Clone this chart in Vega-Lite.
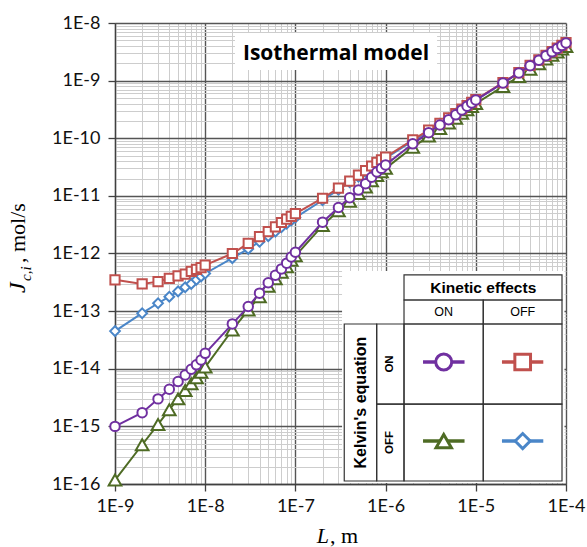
{
  "$schema": "https://vega.github.io/schema/vega-lite/v6.json",
  "width": 451,
  "height": 461,
  "autosize": {"type": "none"},
  "padding": {"left": 115, "top": 23, "right": 21, "bottom": 63},
  "background": "white",
  "config": {"view": {"stroke": null}},
  "datasets": {
    "curves": [
      {"L":1e-9,"J":1e-15,"s":"KelvinON_KineticON"},{"L":2e-9,"J":1.73e-15,"s":"KelvinON_KineticON"},{"L":3e-9,"J":3.0e-15,"s":"KelvinON_KineticON"},{"L":4e-9,"J":4.4e-15,"s":"KelvinON_KineticON"},{"L":5e-9,"J":6.0e-15,"s":"KelvinON_KineticON"},{"L":6e-9,"J":7.8e-15,"s":"KelvinON_KineticON"},{"L":7e-9,"J":9.8e-15,"s":"KelvinON_KineticON"},{"L":8e-9,"J":1.17e-14,"s":"KelvinON_KineticON"},{"L":9e-9,"J":1.42e-14,"s":"KelvinON_KineticON"},
      {"L":1e-8,"J":1.85e-14,"s":"KelvinON_KineticON"},{"L":2e-8,"J":6.0e-14,"s":"KelvinON_KineticON"},{"L":3e-8,"J":1.2e-13,"s":"KelvinON_KineticON"},{"L":4e-8,"J":2.05e-13,"s":"KelvinON_KineticON"},{"L":5e-8,"J":3.1e-13,"s":"KelvinON_KineticON"},{"L":6e-8,"J":4.2e-13,"s":"KelvinON_KineticON"},{"L":7e-8,"J":5.4e-13,"s":"KelvinON_KineticON"},{"L":8e-8,"J":6.8e-13,"s":"KelvinON_KineticON"},{"L":9e-8,"J":8.7e-13,"s":"KelvinON_KineticON"},
      {"L":1e-7,"J":1.05e-12,"s":"KelvinON_KineticON"},{"L":2e-7,"J":3.5e-12,"s":"KelvinON_KineticON"},{"L":3e-7,"J":6.3e-12,"s":"KelvinON_KineticON"},{"L":4e-7,"J":9.3e-12,"s":"KelvinON_KineticON"},{"L":5e-7,"J":1.26e-11,"s":"KelvinON_KineticON"},{"L":6e-7,"J":1.63e-11,"s":"KelvinON_KineticON"},{"L":7e-7,"J":2.1e-11,"s":"KelvinON_KineticON"},{"L":8e-7,"J":2.6e-11,"s":"KelvinON_KineticON"},{"L":9e-7,"J":3.0e-11,"s":"KelvinON_KineticON"},
      {"L":1e-6,"J":3.45e-11,"s":"KelvinON_KineticON"},{"L":2e-6,"J":8.0e-11,"s":"KelvinON_KineticON"},{"L":3e-6,"J":1.25e-10,"s":"KelvinON_KineticON"},{"L":4e-6,"J":1.7e-10,"s":"KelvinON_KineticON"},{"L":5e-6,"J":2.1e-10,"s":"KelvinON_KineticON"},{"L":6e-6,"J":2.55e-10,"s":"KelvinON_KineticON"},{"L":7e-6,"J":3.1e-10,"s":"KelvinON_KineticON"},{"L":8e-6,"J":3.6e-10,"s":"KelvinON_KineticON"},{"L":9e-6,"J":4.1e-10,"s":"KelvinON_KineticON"},
      {"L":1e-5,"J":4.6e-10,"s":"KelvinON_KineticON"},{"L":2e-5,"J":9.1e-10,"s":"KelvinON_KineticON"},{"L":3e-5,"J":1.36e-9,"s":"KelvinON_KineticON"},{"L":4e-5,"J":1.81e-9,"s":"KelvinON_KineticON"},{"L":5e-5,"J":2.26e-9,"s":"KelvinON_KineticON"},{"L":6e-5,"J":2.71e-9,"s":"KelvinON_KineticON"},{"L":7e-5,"J":3.16e-9,"s":"KelvinON_KineticON"},{"L":8e-5,"J":3.6e-9,"s":"KelvinON_KineticON"},{"L":9e-5,"J":4.05e-9,"s":"KelvinON_KineticON"},
      {"L":1e-4,"J":4.5e-9,"s":"KelvinON_KineticON"},

      {"L":1e-9,"J":1.17e-16,"s":"KelvinOFF_KineticON"},{"L":2e-9,"J":4.8e-16,"s":"KelvinOFF_KineticON"},{"L":3e-9,"J":1.08e-15,"s":"KelvinOFF_KineticON"},{"L":4e-9,"J":1.95e-15,"s":"KelvinOFF_KineticON"},{"L":5e-9,"J":3.0e-15,"s":"KelvinOFF_KineticON"},{"L":6e-9,"J":4.2e-15,"s":"KelvinOFF_KineticON"},{"L":7e-9,"J":5.5e-15,"s":"KelvinOFF_KineticON"},{"L":8e-9,"J":7.0e-15,"s":"KelvinOFF_KineticON"},{"L":9e-9,"J":8.7e-15,"s":"KelvinOFF_KineticON"},
      {"L":1e-8,"J":1.07e-14,"s":"KelvinOFF_KineticON"},{"L":2e-8,"J":4.7e-14,"s":"KelvinOFF_KineticON"},{"L":3e-8,"J":1.05e-13,"s":"KelvinOFF_KineticON"},{"L":4e-8,"J":1.78e-13,"s":"KelvinOFF_KineticON"},{"L":5e-8,"J":2.7e-13,"s":"KelvinOFF_KineticON"},{"L":6e-8,"J":3.65e-13,"s":"KelvinOFF_KineticON"},{"L":7e-8,"J":4.7e-13,"s":"KelvinOFF_KineticON"},{"L":8e-8,"J":5.9e-13,"s":"KelvinOFF_KineticON"},{"L":9e-8,"J":7.6e-13,"s":"KelvinOFF_KineticON"},
      {"L":1e-7,"J":9.1e-13,"s":"KelvinOFF_KineticON"},{"L":2e-7,"J":3.05e-12,"s":"KelvinOFF_KineticON"},{"L":3e-7,"J":5.5e-12,"s":"KelvinOFF_KineticON"},{"L":4e-7,"J":8.1e-12,"s":"KelvinOFF_KineticON"},{"L":5e-7,"J":1.1e-11,"s":"KelvinOFF_KineticON"},{"L":6e-7,"J":1.42e-11,"s":"KelvinOFF_KineticON"},{"L":7e-7,"J":1.83e-11,"s":"KelvinOFF_KineticON"},{"L":8e-7,"J":2.26e-11,"s":"KelvinOFF_KineticON"},{"L":9e-7,"J":2.61e-11,"s":"KelvinOFF_KineticON"},
      {"L":1e-6,"J":3.0e-11,"s":"KelvinOFF_KineticON"},{"L":2e-6,"J":6.96e-11,"s":"KelvinOFF_KineticON"},{"L":3e-6,"J":1.09e-10,"s":"KelvinOFF_KineticON"},{"L":4e-6,"J":1.48e-10,"s":"KelvinOFF_KineticON"},{"L":5e-6,"J":1.83e-10,"s":"KelvinOFF_KineticON"},{"L":6e-6,"J":2.22e-10,"s":"KelvinOFF_KineticON"},{"L":7e-6,"J":2.7e-10,"s":"KelvinOFF_KineticON"},{"L":8e-6,"J":3.13e-10,"s":"KelvinOFF_KineticON"},{"L":9e-6,"J":3.57e-10,"s":"KelvinOFF_KineticON"},
      {"L":1e-5,"J":4.0e-10,"s":"KelvinOFF_KineticON"},{"L":2e-5,"J":7.9e-10,"s":"KelvinOFF_KineticON"},{"L":3e-5,"J":1.18e-9,"s":"KelvinOFF_KineticON"},{"L":4e-5,"J":1.57e-9,"s":"KelvinOFF_KineticON"},{"L":5e-5,"J":1.97e-9,"s":"KelvinOFF_KineticON"},{"L":6e-5,"J":2.36e-9,"s":"KelvinOFF_KineticON"},{"L":7e-5,"J":2.75e-9,"s":"KelvinOFF_KineticON"},{"L":8e-5,"J":3.13e-9,"s":"KelvinOFF_KineticON"},{"L":9e-5,"J":3.52e-9,"s":"KelvinOFF_KineticON"},
      {"L":1e-4,"J":3.92e-9,"s":"KelvinOFF_KineticON"},

      {"L":1e-9,"J":3.5e-13,"s":"KelvinON_KineticOFF"},{"L":2e-9,"J":2.97e-13,"s":"KelvinON_KineticOFF"},{"L":3e-9,"J":3.25e-13,"s":"KelvinON_KineticOFF"},{"L":4e-9,"J":3.7e-13,"s":"KelvinON_KineticOFF"},{"L":5e-9,"J":4.1e-13,"s":"KelvinON_KineticOFF"},{"L":6e-9,"J":4.4e-13,"s":"KelvinON_KineticOFF"},{"L":7e-9,"J":4.9e-13,"s":"KelvinON_KineticOFF"},{"L":8e-9,"J":5.3e-13,"s":"KelvinON_KineticOFF"},{"L":9e-9,"J":5.7e-13,"s":"KelvinON_KineticOFF"},
      {"L":1e-8,"J":6.3e-13,"s":"KelvinON_KineticOFF"},{"L":2e-8,"J":1.0e-12,"s":"KelvinON_KineticOFF"},{"L":3e-8,"J":1.5e-12,"s":"KelvinON_KineticOFF"},{"L":4e-8,"J":1.96e-12,"s":"KelvinON_KineticOFF"},{"L":5e-8,"J":2.4e-12,"s":"KelvinON_KineticOFF"},{"L":6e-8,"J":2.9e-12,"s":"KelvinON_KineticOFF"},{"L":7e-8,"J":3.45e-12,"s":"KelvinON_KineticOFF"},{"L":8e-8,"J":3.95e-12,"s":"KelvinON_KineticOFF"},{"L":9e-8,"J":4.4e-12,"s":"KelvinON_KineticOFF"},
      {"L":1e-7,"J":4.9e-12,"s":"KelvinON_KineticOFF"},{"L":2e-7,"J":9.1e-12,"s":"KelvinON_KineticOFF"},{"L":3e-7,"J":1.36e-11,"s":"KelvinON_KineticOFF"},{"L":4e-7,"J":1.8e-11,"s":"KelvinON_KineticOFF"},{"L":5e-7,"J":2.3e-11,"s":"KelvinON_KineticOFF"},{"L":6e-7,"J":2.75e-11,"s":"KelvinON_KineticOFF"},{"L":7e-7,"J":3.3e-11,"s":"KelvinON_KineticOFF"},{"L":8e-7,"J":3.8e-11,"s":"KelvinON_KineticOFF"},{"L":9e-7,"J":4.2e-11,"s":"KelvinON_KineticOFF"},
      {"L":1e-6,"J":4.7e-11,"s":"KelvinON_KineticOFF"},{"L":2e-6,"J":9.4e-11,"s":"KelvinON_KineticOFF"},{"L":3e-6,"J":1.38e-10,"s":"KelvinON_KineticOFF"},{"L":4e-6,"J":1.82e-10,"s":"KelvinON_KineticOFF"},{"L":5e-6,"J":2.25e-10,"s":"KelvinON_KineticOFF"},{"L":6e-6,"J":2.68e-10,"s":"KelvinON_KineticOFF"},{"L":7e-6,"J":3.2e-10,"s":"KelvinON_KineticOFF"},{"L":8e-6,"J":3.7e-10,"s":"KelvinON_KineticOFF"},{"L":9e-6,"J":4.2e-10,"s":"KelvinON_KineticOFF"},
      {"L":1e-5,"J":4.7e-10,"s":"KelvinON_KineticOFF"},{"L":2e-5,"J":9.2e-10,"s":"KelvinON_KineticOFF"},{"L":3e-5,"J":1.38e-9,"s":"KelvinON_KineticOFF"},{"L":4e-5,"J":1.84e-9,"s":"KelvinON_KineticOFF"},{"L":5e-5,"J":2.3e-9,"s":"KelvinON_KineticOFF"},{"L":6e-5,"J":2.75e-9,"s":"KelvinON_KineticOFF"},{"L":7e-5,"J":3.2e-9,"s":"KelvinON_KineticOFF"},{"L":8e-5,"J":3.65e-9,"s":"KelvinON_KineticOFF"},{"L":9e-5,"J":4.1e-9,"s":"KelvinON_KineticOFF"},
      {"L":1e-4,"J":4.55e-9,"s":"KelvinON_KineticOFF"},

      {"L":1e-9,"J":4.5e-14,"s":"KelvinOFF_KineticOFF"},{"L":2e-9,"J":9.2e-14,"s":"KelvinOFF_KineticOFF"},{"L":3e-9,"J":1.37e-13,"s":"KelvinOFF_KineticOFF"},{"L":4e-9,"J":1.78e-13,"s":"KelvinOFF_KineticOFF"},{"L":5e-9,"J":2.2e-13,"s":"KelvinOFF_KineticOFF"},{"L":6e-9,"J":2.6e-13,"s":"KelvinOFF_KineticOFF"},{"L":7e-9,"J":2.97e-13,"s":"KelvinOFF_KineticOFF"},{"L":8e-9,"J":3.5e-13,"s":"KelvinOFF_KineticOFF"},{"L":9e-9,"J":4.0e-13,"s":"KelvinOFF_KineticOFF"},
      {"L":1e-8,"J":4.5e-13,"s":"KelvinOFF_KineticOFF"},{"L":2e-8,"J":8.3e-13,"s":"KelvinOFF_KineticOFF"},{"L":3e-8,"J":1.2e-12,"s":"KelvinOFF_KineticOFF"},{"L":4e-8,"J":1.6e-12,"s":"KelvinOFF_KineticOFF"},{"L":5e-8,"J":2.0e-12,"s":"KelvinOFF_KineticOFF"},{"L":6e-8,"J":2.4e-12,"s":"KelvinOFF_KineticOFF"},{"L":7e-8,"J":2.85e-12,"s":"KelvinOFF_KineticOFF"},{"L":8e-8,"J":3.3e-12,"s":"KelvinOFF_KineticOFF"},{"L":9e-8,"J":3.75e-12,"s":"KelvinOFF_KineticOFF"},
      {"L":1e-7,"J":4.2e-12,"s":"KelvinOFF_KineticOFF"},{"L":2e-7,"J":8.4e-12,"s":"KelvinOFF_KineticOFF"},{"L":3e-7,"J":1.28e-11,"s":"KelvinOFF_KineticOFF"},{"L":4e-7,"J":1.72e-11,"s":"KelvinOFF_KineticOFF"},{"L":5e-7,"J":2.15e-11,"s":"KelvinOFF_KineticOFF"},{"L":6e-7,"J":2.6e-11,"s":"KelvinOFF_KineticOFF"},{"L":7e-7,"J":3.1e-11,"s":"KelvinOFF_KineticOFF"},{"L":8e-7,"J":3.55e-11,"s":"KelvinOFF_KineticOFF"},{"L":9e-7,"J":4.0e-11,"s":"KelvinOFF_KineticOFF"},
      {"L":1e-6,"J":4.5e-11,"s":"KelvinOFF_KineticOFF"},{"L":2e-6,"J":9.0e-11,"s":"KelvinOFF_KineticOFF"},{"L":3e-6,"J":1.33e-10,"s":"KelvinOFF_KineticOFF"},{"L":4e-6,"J":1.78e-10,"s":"KelvinOFF_KineticOFF"},{"L":5e-6,"J":2.2e-10,"s":"KelvinOFF_KineticOFF"},{"L":6e-6,"J":2.65e-10,"s":"KelvinOFF_KineticOFF"},{"L":7e-6,"J":3.1e-10,"s":"KelvinOFF_KineticOFF"},{"L":8e-6,"J":3.6e-10,"s":"KelvinOFF_KineticOFF"},{"L":9e-6,"J":4.1e-10,"s":"KelvinOFF_KineticOFF"},
      {"L":1e-5,"J":4.6e-10,"s":"KelvinOFF_KineticOFF"},{"L":2e-5,"J":9.1e-10,"s":"KelvinOFF_KineticOFF"},{"L":3e-5,"J":1.36e-9,"s":"KelvinOFF_KineticOFF"},{"L":4e-5,"J":1.81e-9,"s":"KelvinOFF_KineticOFF"},{"L":5e-5,"J":2.26e-9,"s":"KelvinOFF_KineticOFF"},{"L":6e-5,"J":2.71e-9,"s":"KelvinOFF_KineticOFF"},{"L":7e-5,"J":3.16e-9,"s":"KelvinOFF_KineticOFF"},{"L":8e-5,"J":3.6e-9,"s":"KelvinOFF_KineticOFF"},{"L":9e-5,"J":4.05e-9,"s":"KelvinOFF_KineticOFF"},
      {"L":1e-4,"J":4.5e-9,"s":"KelvinOFF_KineticOFF"}
    ]
  },
  "encoding": {
    "x": {
      "field": "L", "type": "quantitative",
      "scale": {"type": "log", "domain": [1e-9, 1e-4], "nice": false},
      "axis": {
        "title": null,
        "values": [1e-9,2e-9,3e-9,4e-9,5e-9,6e-9,7e-9,8e-9,9e-9,1e-8,2e-8,3e-8,4e-8,5e-8,6e-8,7e-8,8e-8,9e-8,1e-7,2e-7,3e-7,4e-7,5e-7,6e-7,7e-7,8e-7,9e-7,1e-6,2e-6,3e-6,4e-6,5e-6,6e-6,7e-6,8e-6,9e-6,1e-5,2e-5,3e-5,4e-5,5e-5,6e-5,7e-5,8e-5,9e-5,1e-4],
        "labelExpr": "abs(log(datum.value)/LN10 - round(log(datum.value)/LN10)) < 0.001 ? '1E' + round(log(datum.value)/LN10) : ''",
        "labelFont": "Lato", "labelFontSize": 18, "labelColor": "#111111",
        "labelPadding": 6, "labelOverlap": false, "labelFlush": false, "labelBound": false,
        "tickSize": 7, "tickColor": "#404040", "tickWidth": 1.3,
        "tickOpacity": {"condition": {"test": "abs(log(datum.value)/LN10 - round(log(datum.value)/LN10)) < 0.001", "value": 1}, "value": 0},
        "gridColor": {"condition": {"test": "abs(log(datum.value)/LN10 - round(log(datum.value)/LN10)) < 0.001", "value": "#555555"}, "value": "#cdcdcd"},
        "gridWidth": {"condition": {"test": "abs(log(datum.value)/LN10 - round(log(datum.value)/LN10)) < 0.001", "value": 1.4}, "value": 1},
        "domainColor": "#404040", "domainWidth": 1.3
      }
    },
    "y": {
      "field": "J", "type": "quantitative",
      "scale": {"type": "log", "domain": [1e-16, 1e-8], "nice": false},
      "axis": {
        "title": null,
        "values": [1e-16,2e-16,3e-16,4e-16,5e-16,6e-16,7e-16,8e-16,9e-16,1e-15,2e-15,3e-15,4e-15,5e-15,6e-15,7e-15,8e-15,9e-15,1e-14,2e-14,3e-14,4e-14,5e-14,6e-14,7e-14,8e-14,9e-14,1e-13,2e-13,3e-13,4e-13,5e-13,6e-13,7e-13,8e-13,9e-13,1e-12,2e-12,3e-12,4e-12,5e-12,6e-12,7e-12,8e-12,9e-12,1e-11,2e-11,3e-11,4e-11,5e-11,6e-11,7e-11,8e-11,9e-11,1e-10,2e-10,3e-10,4e-10,5e-10,6e-10,7e-10,8e-10,9e-10,1e-9,2e-9,3e-9,4e-9,5e-9,6e-9,7e-9,8e-9,9e-9,1e-8],
        "labelExpr": "abs(log(datum.value)/LN10 - round(log(datum.value)/LN10)) < 0.001 ? '1E' + round(log(datum.value)/LN10) : ''",
        "labelFont": "Lato", "labelFontSize": 18, "labelColor": "#111111",
        "labelPadding": 8, "labelOverlap": false, "labelFlush": false, "labelBound": false,
        "tickSize": 7, "tickColor": "#404040", "tickWidth": 1.3,
        "tickOpacity": {"condition": {"test": "abs(log(datum.value)/LN10 - round(log(datum.value)/LN10)) < 0.001", "value": 1}, "value": 0},
        "gridColor": {"condition": {"test": "abs(log(datum.value)/LN10 - round(log(datum.value)/LN10)) < 0.001", "value": "#555555"}, "value": "#cdcdcd"},
        "gridWidth": {"condition": {"test": "abs(log(datum.value)/LN10 - round(log(datum.value)/LN10)) < 0.001", "value": 1.4}, "value": 1},
        "domainColor": "#404040", "domainWidth": 1.3
      }
    }
  },
  "layer": [
    {
      "data": {"values": [
        {"L": 2.14e-8, "L2": 3.72e-6, "J": 6.7e-9, "J2": 1.53e-9, "what": "title box"},
        {"L": 3.29e-7, "L2": 9.62e-5, "J": 4.97e-13, "J2": 1.04e-16, "what": "legend box"}
      ]},
      "mark": {"type": "rect", "fill": "white", "strokeWidth": 0},
      "encoding": {"x2": {"field": "L2"}, "y2": {"field": "J2"}}
    },
    {
      "data": {"values": [
        {"L": 1.6e-6, "L2": 9.03e-5, "J": 4.24e-13, "J2": 1.56e-13},
        {"L": 1.6e-6, "L2": 1.21e-5, "J": 1.56e-13, "J2": 5.98e-14},
        {"L": 1.21e-5, "L2": 9.03e-5, "J": 1.56e-13, "J2": 5.98e-14},
        {"L": 3.48e-7, "L2": 7.96e-7, "J": 5.98e-14, "J2": 1.127e-16},
        {"L": 7.96e-7, "L2": 1.6e-6, "J": 5.98e-14, "J2": 2.44e-15},
        {"L": 7.96e-7, "L2": 1.6e-6, "J": 2.44e-15, "J2": 1.127e-16},
        {"L": 1.6e-6, "L2": 1.21e-5, "J": 5.98e-14, "J2": 2.44e-15},
        {"L": 1.21e-5, "L2": 9.03e-5, "J": 5.98e-14, "J2": 2.44e-15},
        {"L": 1.6e-6, "L2": 1.21e-5, "J": 2.44e-15, "J2": 1.127e-16},
        {"L": 1.21e-5, "L2": 9.03e-5, "J": 2.44e-15, "J2": 1.127e-16}
      ]},
      "mark": {"type": "rect", "fill": "white", "fillOpacity": 0, "stroke": "#333333", "strokeWidth": 1.2},
      "encoding": {"x2": {"field": "L2"}, "y2": {"field": "J2"}}
    },
    {
      "data": {"name": "curves"},
      "transform": [{"filter": "datum.s === 'KelvinOFF_KineticOFF'"}],
      "mark": {"type": "line", "stroke": "#4A86C8", "strokeWidth": 2}
    },
    {
      "data": {"name": "curves"},
      "transform": [{"filter": "datum.s === 'KelvinOFF_KineticOFF'"}],
      "mark": {"type": "point", "shape": "diamond", "size": 95, "fill": "white", "stroke": "#4A86C8", "strokeWidth": 2, "opacity": 1, "fillOpacity": 1}
    },
    {
      "data": {"name": "curves"},
      "transform": [{"filter": "datum.s === 'KelvinOFF_KineticON'"}],
      "mark": {"type": "line", "stroke": "#4E6B24", "strokeWidth": 2}
    },
    {
      "data": {"name": "curves"},
      "transform": [{"filter": "datum.s === 'KelvinOFF_KineticON'"}],
      "mark": {"type": "point", "shape": "triangle-up", "size": 160, "fill": "white", "stroke": "#4E6B24", "strokeWidth": 2, "opacity": 1, "fillOpacity": 1}
    },
    {
      "data": {"name": "curves"},
      "transform": [{"filter": "datum.s === 'KelvinON_KineticOFF'"}],
      "mark": {"type": "line", "stroke": "#C0504D", "strokeWidth": 2}
    },
    {
      "data": {"name": "curves"},
      "transform": [{"filter": "datum.s === 'KelvinON_KineticOFF'"}],
      "mark": {"type": "point", "shape": "square", "size": 85, "fill": "white", "stroke": "#C0504D", "strokeWidth": 2, "opacity": 1, "fillOpacity": 1}
    },
    {
      "data": {"name": "curves"},
      "transform": [{"filter": "datum.s === 'KelvinON_KineticON'"}],
      "mark": {"type": "line", "stroke": "#7030A0", "strokeWidth": 2}
    },
    {
      "data": {"name": "curves"},
      "transform": [{"filter": "datum.s === 'KelvinON_KineticON'"}],
      "mark": {"type": "point", "shape": "circle", "size": 90, "fill": "white", "stroke": "#7030A0", "strokeWidth": 2, "opacity": 1, "fillOpacity": 1}
    },
    {
      "data": {"values": [
        {"L": 2.6e-6, "L2": 7.5e-6, "J": 1.31e-14, "s": "KelvinON_KineticON"},
        {"L": 1.95e-5, "L2": 5.6e-5, "J": 1.31e-14, "s": "KelvinON_KineticOFF"},
        {"L": 2.6e-6, "L2": 7.5e-6, "J": 5.57e-16, "s": "KelvinOFF_KineticON"},
        {"L": 1.95e-5, "L2": 5.6e-5, "J": 5.57e-16, "s": "KelvinOFF_KineticOFF"}
      ]},
      "mark": {"type": "rule", "strokeWidth": 3.5},
      "encoding": {
        "x2": {"field": "L2"},
        "stroke": {"field": "s", "type": "nominal", "legend": null,
          "scale": {"domain": ["KelvinON_KineticON", "KelvinON_KineticOFF", "KelvinOFF_KineticON", "KelvinOFF_KineticOFF"], "range": ["#7030A0", "#C0504D", "#4E6B24", "#4A86C8"]}}
      }
    },
    {
      "data": {"values": [
        {"L": 4.41e-6, "J": 1.31e-14, "s": "KelvinON_KineticON"},
        {"L": 3.31e-5, "J": 1.31e-14, "s": "KelvinON_KineticOFF"},
        {"L": 4.41e-6, "J": 5.57e-16, "s": "KelvinOFF_KineticON"},
        {"L": 3.31e-5, "J": 5.57e-16, "s": "KelvinOFF_KineticOFF"}
      ]},
      "mark": {"type": "point", "fill": "white", "fillOpacity": 1, "opacity": 1, "strokeWidth": 3},
      "encoding": {
        "stroke": {"field": "s", "type": "nominal", "legend": null,
          "scale": {"domain": ["KelvinON_KineticON", "KelvinON_KineticOFF", "KelvinOFF_KineticON", "KelvinOFF_KineticOFF"], "range": ["#7030A0", "#C0504D", "#4E6B24", "#4A86C8"]}},
        "shape": {"field": "s", "type": "nominal", "legend": null,
          "scale": {"domain": ["KelvinON_KineticON", "KelvinON_KineticOFF", "KelvinOFF_KineticON", "KelvinOFF_KineticOFF"], "range": ["circle", "square", "triangle-up", "diamond"]}},
        "size": {"field": "s", "type": "nominal", "legend": null,
          "scale": {"domain": ["KelvinON_KineticON", "KelvinON_KineticOFF", "KelvinOFF_KineticON", "KelvinOFF_KineticOFF"], "range": [256, 225, 380, 256]}}
      }
    },
    {
      "data": {"values": [{"L": 2.82e-7, "J": 2.28e-9, "t": "Isothermal model"}]},
      "mark": {"type": "text", "font": "Open Sans", "fontWeight": "bold", "fontSize": 21, "align": "center", "baseline": "alphabetic", "color": "#000000"},
      "encoding": {"text": {"field": "t"}}
    },
    {
      "data": {"values": [{"L": 1.21e-5, "J": 2.57e-13, "t": "Kinetic effects"}]},
      "mark": {"type": "text", "font": "Liberation Sans", "fontWeight": "bold", "fontSize": 15.5, "align": "center", "baseline": "middle", "color": "#000000"},
      "encoding": {"text": {"field": "t"}}
    },
    {
      "data": {"values": [{"L": 4.41e-6, "J": 9.66e-14, "t": "ON"}, {"L": 3.31e-5, "J": 9.66e-14, "t": "OFF"}]},
      "mark": {"type": "text", "font": "Liberation Sans", "fontSize": 12.5, "align": "center", "baseline": "middle", "color": "#000000"},
      "encoding": {"text": {"field": "t"}}
    },
    {
      "data": {"values": [{"L": 5.28e-7, "J": 2.59e-15, "t": "Kelvin's equation"}]},
      "mark": {"type": "text", "font": "Liberation Sans", "fontWeight": "bold", "fontSize": 16, "angle": 270, "align": "center", "baseline": "middle", "color": "#000000"},
      "encoding": {"text": {"field": "t"}}
    },
    {
      "data": {"values": [{"L": 1.127e-6, "J": 1.21e-14, "t": "ON"}, {"L": 1.127e-6, "J": 5.25e-16, "t": "OFF"}]},
      "mark": {"type": "text", "font": "Liberation Sans", "fontWeight": "bold", "fontSize": 11.5, "angle": 270, "align": "center", "baseline": "middle", "color": "#000000"},
      "encoding": {"text": {"field": "t"}}
    },
    {
      "data": {"values": [{"L": 1e-10, "J": 2.07e-13, "t": "J"}]},
      "mark": {"type": "text", "font": "Liberation Serif", "fontStyle": "italic", "fontSize": 24, "angle": 270, "align": "left", "baseline": "alphabetic", "color": "#000000"},
      "encoding": {"text": {"field": "t"}}
    },
    {
      "data": {"values": [{"L": 1.17e-10, "J": 3.33e-13, "t": "c,i"}]},
      "mark": {"type": "text", "font": "Liberation Serif", "fontStyle": "italic", "fontSize": 15, "angle": 270, "align": "left", "baseline": "alphabetic", "color": "#000000"},
      "encoding": {"text": {"field": "t"}}
    },
    {
      "data": {"values": [{"L": 1e-10, "J": 6.84e-13, "t": ", mol/s"}]},
      "mark": {"type": "text", "font": "Liberation Serif", "fontSize": 22, "angle": 270, "align": "left", "baseline": "alphabetic", "color": "#000000"},
      "encoding": {"text": {"field": "t"}}
    },
    {
      "data": {"values": [{"L": 1.73e-7, "J": 9.46e-18, "t": "L"}]},
      "mark": {"type": "text", "font": "Liberation Serif", "fontStyle": "italic", "fontSize": 22, "align": "left", "baseline": "alphabetic", "color": "#000000"},
      "encoding": {"text": {"field": "t"}}
    },
    {
      "data": {"values": [{"L": 2.42e-7, "J": 9.46e-18, "t": ", m"}]},
      "mark": {"type": "text", "font": "Liberation Serif", "fontSize": 22, "align": "left", "baseline": "alphabetic", "color": "#000000"},
      "encoding": {"text": {"field": "t"}}
    }
  ]
}
